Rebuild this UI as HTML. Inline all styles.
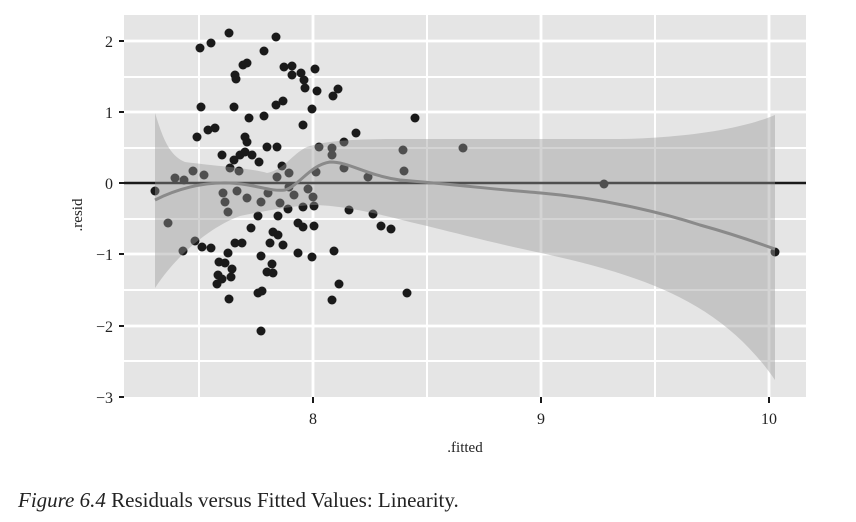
<!DOCTYPE html>
<html><head><meta charset="utf-8"><style>body{margin:0;background:#fff}svg{display:block}</style></head><body>
<svg width="856" height="522" xmlns="http://www.w3.org/2000/svg" font-family="Liberation Serif, serif">
<rect x="124" y="15" width="682" height="382" fill="#e5e5e5"/>
<g stroke="#fff" stroke-width="2">
<line x1="124" x2="806" y1="77" y2="77"/><line x1="124" x2="806" y1="148" y2="148"/><line x1="124" x2="806" y1="219" y2="219"/><line x1="124" x2="806" y1="290" y2="290"/><line x1="124" x2="806" y1="361" y2="361"/>
<line x1="199" x2="199" y1="15" y2="397"/><line x1="427" x2="427" y1="15" y2="397"/><line x1="655" x2="655" y1="15" y2="397"/>
</g>
<g stroke="#fff" stroke-width="2.8">
<line x1="124" x2="806" y1="41" y2="41"/><line x1="124" x2="806" y1="112" y2="112"/><line x1="124" x2="806" y1="254" y2="254"/><line x1="124" x2="806" y1="326" y2="326"/>
<line x1="313" x2="313" y1="15" y2="397"/><line x1="541" x2="541" y1="15" y2="397"/><line x1="769" x2="769" y1="15" y2="397"/>
</g>
<line x1="124" x2="806" y1="183" y2="183" stroke="#1a1a1a" stroke-width="2.5"/>
<g fill="#1a1a1a">
<circle cx="200" cy="48" r="4.5"/><circle cx="211" cy="43" r="4.5"/><circle cx="229" cy="33" r="4.5"/><circle cx="276" cy="37" r="4.5"/><circle cx="264" cy="51" r="4.5"/><circle cx="235" cy="75" r="4.5"/><circle cx="236" cy="79" r="4.5"/><circle cx="243" cy="65" r="4.5"/><circle cx="247" cy="63" r="4.5"/><circle cx="284" cy="67" r="4.5"/><circle cx="292" cy="66" r="4.5"/><circle cx="292" cy="75" r="4.5"/><circle cx="301" cy="73" r="4.5"/><circle cx="304" cy="80" r="4.5"/><circle cx="305" cy="88" r="4.5"/><circle cx="315" cy="69" r="4.5"/><circle cx="317" cy="91" r="4.5"/><circle cx="333" cy="96" r="4.5"/><circle cx="338" cy="89" r="4.5"/><circle cx="201" cy="107" r="4.5"/><circle cx="234" cy="107" r="4.5"/><circle cx="276" cy="105" r="4.5"/><circle cx="283" cy="101" r="4.5"/><circle cx="312" cy="109" r="4.5"/><circle cx="249" cy="118" r="4.5"/><circle cx="264" cy="116" r="4.5"/><circle cx="303" cy="125" r="4.5"/><circle cx="197" cy="137" r="4.5"/><circle cx="208" cy="130" r="4.5"/><circle cx="215" cy="128" r="4.5"/><circle cx="245" cy="137" r="4.5"/><circle cx="247" cy="142" r="4.5"/><circle cx="267" cy="147" r="4.5"/><circle cx="277" cy="147" r="4.5"/><circle cx="222" cy="155" r="4.5"/><circle cx="234" cy="160" r="4.5"/><circle cx="240" cy="155" r="4.5"/><circle cx="245" cy="152" r="4.5"/><circle cx="252" cy="155" r="4.5"/><circle cx="259" cy="162" r="4.5"/><circle cx="356" cy="133" r="4.5"/><circle cx="155" cy="191" r="4.5"/><circle cx="415" cy="118" r="4.5"/>
<circle cx="175" cy="178" r="4.5"/><circle cx="184" cy="180" r="4.5"/><circle cx="193" cy="171" r="4.5"/><circle cx="204" cy="175" r="4.5"/><circle cx="230" cy="168" r="4.5"/><circle cx="239" cy="171" r="4.5"/><circle cx="282" cy="166" r="4.5"/><circle cx="289" cy="173" r="4.5"/><circle cx="277" cy="177" r="4.5"/><circle cx="319" cy="147" r="4.5"/><circle cx="332" cy="148" r="4.5"/><circle cx="332" cy="155" r="4.5"/><circle cx="316" cy="172" r="4.5"/><circle cx="344" cy="142" r="4.5"/><circle cx="344" cy="168" r="4.5"/><circle cx="168" cy="223" r="4.5"/><circle cx="223" cy="193" r="4.5"/><circle cx="225" cy="202" r="4.5"/><circle cx="237" cy="191" r="4.5"/><circle cx="247" cy="198" r="4.5"/><circle cx="261" cy="202" r="4.5"/><circle cx="268" cy="193" r="4.5"/><circle cx="280" cy="203" r="4.5"/><circle cx="294" cy="195" r="4.5"/><circle cx="289" cy="187" r="4.5"/><circle cx="368" cy="177" r="4.5"/><circle cx="403" cy="150" r="4.5"/><circle cx="404" cy="171" r="4.5"/><circle cx="463" cy="148" r="4.5"/><circle cx="604" cy="184" r="4.5"/><circle cx="308" cy="189" r="4.5"/>
<circle cx="228" cy="212" r="4.5"/><circle cx="258" cy="216" r="4.5"/><circle cx="278" cy="216" r="4.5"/><circle cx="288" cy="209" r="4.5"/><circle cx="303" cy="207" r="4.5"/><circle cx="314" cy="206" r="4.5"/><circle cx="313" cy="197" r="4.5"/><circle cx="349" cy="210" r="4.5"/><circle cx="373" cy="214" r="4.5"/><circle cx="381" cy="226" r="4.5"/><circle cx="391" cy="229" r="4.5"/><circle cx="251" cy="228" r="4.5"/><circle cx="298" cy="223" r="4.5"/><circle cx="303" cy="227" r="4.5"/><circle cx="314" cy="226" r="4.5"/><circle cx="273" cy="232" r="4.5"/><circle cx="278" cy="235" r="4.5"/><circle cx="270" cy="243" r="4.5"/><circle cx="283" cy="245" r="4.5"/><circle cx="183" cy="251" r="4.5"/><circle cx="195" cy="241" r="4.5"/><circle cx="202" cy="247" r="4.5"/><circle cx="211" cy="248" r="4.5"/><circle cx="228" cy="253" r="4.5"/><circle cx="235" cy="243" r="4.5"/><circle cx="242" cy="243" r="4.5"/><circle cx="261" cy="256" r="4.5"/><circle cx="298" cy="253" r="4.5"/><circle cx="312" cy="257" r="4.5"/><circle cx="334" cy="251" r="4.5"/><circle cx="219" cy="262" r="4.5"/><circle cx="225" cy="263" r="4.5"/><circle cx="232" cy="269" r="4.5"/><circle cx="218" cy="275" r="4.5"/><circle cx="222" cy="279" r="4.5"/><circle cx="231" cy="277" r="4.5"/><circle cx="217" cy="284" r="4.5"/><circle cx="267" cy="272" r="4.5"/><circle cx="272" cy="264" r="4.5"/><circle cx="273" cy="273" r="4.5"/><circle cx="258" cy="293" r="4.5"/><circle cx="262" cy="291" r="4.5"/><circle cx="339" cy="284" r="4.5"/><circle cx="229" cy="299" r="4.5"/><circle cx="332" cy="300" r="4.5"/><circle cx="407" cy="293" r="4.5"/><circle cx="261" cy="331" r="4.5"/><circle cx="775" cy="252" r="4.5"/>
</g>
<path d="M155,113 C162,135 168,155 185,162 C215,166 250,168 267,173 C285,170 295,150 310,146 C330,140 360,139 400,139 L620,139 C680,138 740,130 775,115 L775,380 C720,300 640,275 541,253 C480,240 445,230 410,222 C380,214 340,205 313,205 C290,206 260,212 240,216 C215,225 180,250 155,288 Z" fill="#999" fill-opacity="0.42"/>
<path d="M155,200 C175,190 200,182 230,183 C255,184 270,192 285,190 C300,185 310,165 330,162 C350,162 365,175 400,180 C460,185 500,190 541,193 C600,198 660,212 700,225 C740,236 760,244 775,249" fill="none" stroke="#8a8a8a" stroke-width="3"/>
<g stroke="#1a1a1a" stroke-width="2">
<line x1="119" x2="124" y1="41" y2="41"/><line x1="119" x2="124" y1="112" y2="112"/><line x1="119" x2="124" y1="183" y2="183"/><line x1="119" x2="124" y1="254" y2="254"/><line x1="119" x2="124" y1="326" y2="326"/><line x1="119" x2="124" y1="397" y2="397"/>
<line x1="313" x2="313" y1="397" y2="403"/><line x1="541" x2="541" y1="397" y2="403"/><line x1="769" x2="769" y1="397" y2="403"/>
</g>
<g font-size="16" fill="#222" text-anchor="end">
<text x="113" y="47">2</text><text x="113" y="118">1</text><text x="113" y="189">0</text><text x="113" y="260">−1</text><text x="113" y="332">−2</text><text x="113" y="403">−3</text>
</g>
<g font-size="16" fill="#222" text-anchor="middle">
<text x="313" y="424">8</text><text x="541" y="424">9</text><text x="769" y="424">10</text>
<text x="465" y="452" font-size="15">.fitted</text>
<text x="0" y="0" font-size="15" transform="translate(82,215) rotate(-90)">.resid</text>
</g>
<text x="18" y="507" font-size="21" fill="#222"><tspan font-style="italic">Figure 6.4</tspan>  Residuals versus Fitted Values: Linearity.</text>
</svg>
</body></html>
